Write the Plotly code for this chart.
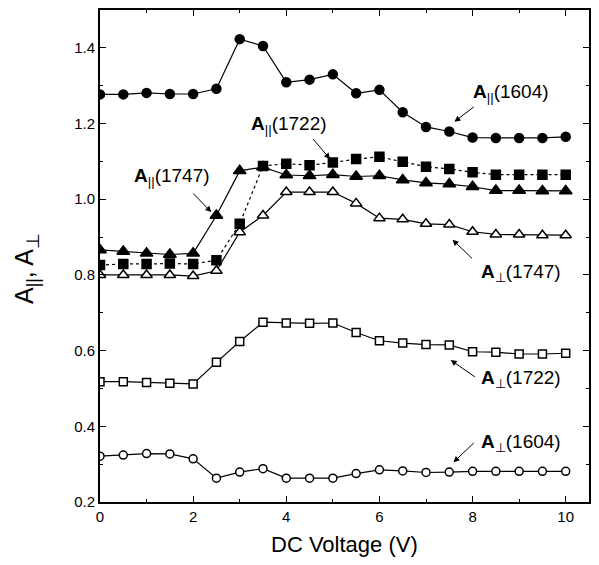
import plotly.graph_objects as go

voltage = [0, 0.5, 1, 1.5, 2, 2.5, 3, 3.5, 4, 4.5, 5, 5.5, 6, 6.5, 7, 7.5, 8, 8.5, 9, 9.5, 10]

a_par_1604 = [1.277, 1.277, 1.281, 1.278, 1.278, 1.292, 1.423, 1.405, 1.309, 1.316, 1.330,
              1.280, 1.289, 1.230, 1.191, 1.179, 1.163, 1.162, 1.162, 1.162, 1.165]
a_par_1722 = [0.826, 0.829, 0.829, 0.830, 0.829, 0.839, 0.935, 1.088, 1.094, 1.090, 1.097,
              1.106, 1.112, 1.099, 1.086, 1.080, 1.071, 1.065, 1.065, 1.065, 1.065]
a_par_1747 = [0.866, 0.862, 0.857, 0.854, 0.857, 0.957, 1.075, 1.085, 1.064, 1.062, 1.065,
              1.060, 1.062, 1.051, 1.043, 1.040, 1.033, 1.023, 1.023, 1.022, 1.022]
a_perp_1747 = [0.800, 0.800, 0.800, 0.800, 0.797, 0.811, 0.913, 0.957, 1.019, 1.019, 1.019,
               0.989, 0.950, 0.947, 0.935, 0.933, 0.914, 0.907, 0.907, 0.905, 0.905]
a_perp_1722 = [0.518, 0.518, 0.516, 0.514, 0.512, 0.569, 0.624, 0.675, 0.673, 0.672, 0.673,
               0.648, 0.626, 0.620, 0.616, 0.615, 0.597, 0.596, 0.591, 0.591, 0.593]
a_perp_1604 = [0.321, 0.324, 0.328, 0.327, 0.314, 0.263, 0.279, 0.288, 0.263, 0.263, 0.263,
               0.275, 0.285, 0.282, 0.278, 0.279, 0.281, 0.281, 0.281, 0.281, 0.281]

x_ticks = [0, 2, 4, 6, 8, 10]
y_ticks = [0.2, 0.4, 0.6, 0.8, 1.0, 1.2, 1.4]
y_tick_labels = ["0.2", "0.4", "0.6", "0.8", "1.0", "1.2", "1.4"]

x_title = "DC Voltage (V)"
y_title = "A<sub>||</sub>, A<sub>⊥</sub>"

# label text, text position, arrow tail, arrow head (data coords)
labels = [
    ("<b>A</b><sub>||</sub>(1604)", (8.83, 1.281), (8.06, 1.247), (7.61, 1.205)),
    ("<b>A</b><sub>||</sub>(1722)", (4.06, 1.197), (4.55, 1.163), (4.94, 1.106)),
    ("<b>A</b><sub>||</sub>(1747)", (1.54, 1.058), (1.97, 1.019), (2.39, 0.966)),
    ("<b>A</b><sub>⊥</sub>(1747)", (9.04, 0.804), (8.02, 0.840), (7.57, 0.893)),
    ("<b>A</b><sub>⊥</sub>(1722)", (9.04, 0.525), (8.08, 0.528), (7.53, 0.575)),
    ("<b>A</b><sub>⊥</sub>(1604)", (9.04, 0.357), (8.06, 0.360), (7.59, 0.305)),
]

FONT = "Liberation Sans, Arial, Helvetica, sans-serif"

fig = go.Figure()

def add(y, symbol, size, fill, dash="solid"):
    fig.add_trace(go.Scatter(
        x=voltage, y=y, mode="lines+markers",
        line=dict(color="black", width=1.2, dash=dash),
        marker=dict(symbol=symbol, size=size, color=fill,
                    line=dict(color="black", width=1.5)),
        showlegend=False,
    ))

add(a_perp_1604, "circle", 8, "white")
add(a_perp_1722, "square", 8, "white")
add(a_perp_1747, "triangle-up", 10, "white")
add(a_par_1747, "triangle-up", 11, "black")
add(a_par_1722, "square", 9, "black", dash="dot")
add(a_par_1604, "circle", 9, "black")

for text, tpos, tail, head in labels:
    fig.add_annotation(x=tpos[0], y=tpos[1], text=text, showarrow=False,
                       font=dict(family=FONT, size=19, color="black"))
    fig.add_annotation(x=head[0], y=head[1], ax=tail[0], ay=tail[1],
                       axref="x", ayref="y", xref="x", yref="y",
                       text="", showarrow=True, arrowhead=2, arrowsize=1.2,
                       arrowwidth=1, arrowcolor="black", standoff=0)

# axis titles as annotations for precise placement
fig.add_annotation(xref="paper", yref="paper", x=0.5, y=-0.087, text=x_title,
                   showarrow=False, yanchor="middle", xanchor="center",
                   font=dict(family=FONT, size=22, color="black"))
fig.add_annotation(xref="paper", yref="paper", x=-0.15, y=0.475, text=y_title,
                   showarrow=False, textangle=-90, yanchor="middle", xanchor="center",
                   font=dict(family=FONT, size=25, color="black"))

axis_common = dict(
    showline=True, linecolor="black", linewidth=2, mirror="allticks",
    ticks="inside", ticklen=6, tickwidth=1, tickcolor="black",
    showgrid=False, zeroline=False,
    tickfont=dict(family=FONT, size=15, color="black"),
)

fig.update_xaxes(range=[0, 10.5], tickvals=x_ticks,
                 minor=dict(dtick=1, ticks="inside", ticklen=3, tickcolor="black", showgrid=False),
                 **axis_common)
fig.update_yaxes(range=[0.2, 1.5], tickvals=y_ticks, ticktext=y_tick_labels,
                 minor=dict(dtick=0.1, tick0=0.2, ticks="inside", ticklen=3, tickcolor="black", showgrid=False),
                 **axis_common)

fig.update_layout(
    width=599, height=565,
    margin=dict(l=100, r=8, t=9, b=63),
    plot_bgcolor="white", paper_bgcolor="white",
    font=dict(family=FONT, color="black"),
)

fig.write_html("out.html")
